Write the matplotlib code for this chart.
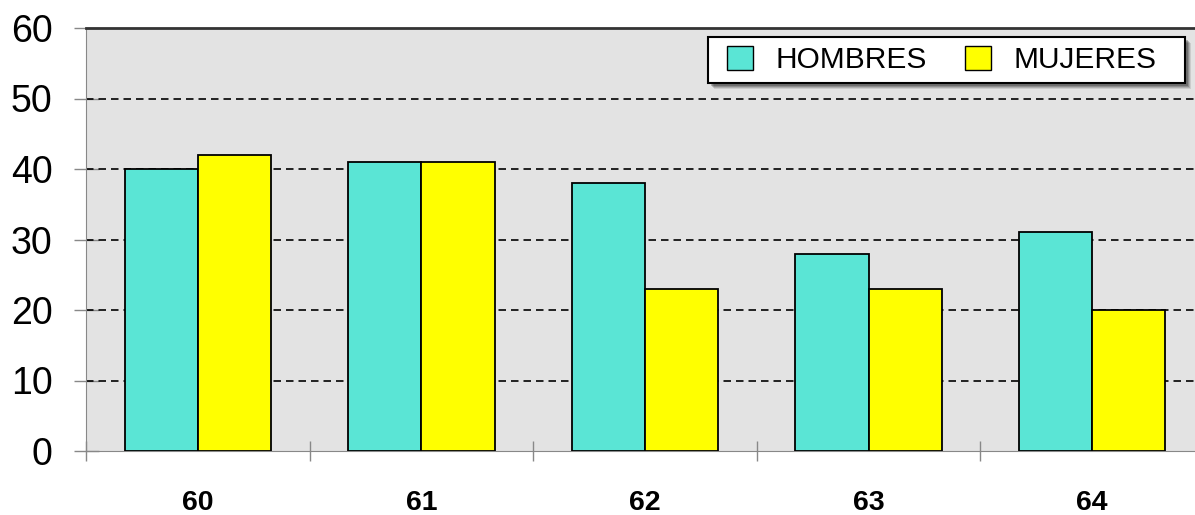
import numpy as np
import matplotlib.pyplot as plt
from matplotlib.patches import Patch, Rectangle

ages = ['60', '61', '62', '63', '64']
hombres = [40, 41, 38, 28, 31]
mujeres = [42, 41, 23, 23, 20]
y_ticks = [0, 10, 20, 30, 40, 50, 60]

CYAN = '#5ae5d5'
YELLOW = '#ffff00'
BG = '#e3e3e3'

plt.rcParams['font.family'] = ['Liberation Sans', 'DejaVu Sans']

fig = plt.figure(figsize=(11.95, 5.15), dpi=100)
# plot area runs a little past the right edge of the image, like the original
ax = fig.add_axes([86 / 1195, 1 - 451 / 515, 1118 / 1195, 423 / 515])
ax.set_facecolor(BG)

x = np.arange(len(ages))
w = 0.327
ax.bar(x - w / 2, hombres, w, color=CYAN, edgecolor='black', linewidth=1.3, zorder=3)
ax.bar(x + w / 2, mujeres, w, color=YELLOW, edgecolor='black', linewidth=1.3, zorder=3)

ax.set_xlim(-0.5, len(ages) - 0.5)
ax.set_ylim(0, 60)

for v in y_ticks[1:-1]:
    ax.axhline(v, color='black', linestyle=(0, (4.5, 3)), linewidth=1.2, zorder=2)

ax.set_yticks(y_ticks)
ax.tick_params(axis='y', direction='inout', length=18, width=1, color='#888888',
               labelsize=27, pad=15)

ax.set_xticks(x)
ax.set_xticklabels(ages, fontsize=20.5, fontweight='bold')
ax.set_xticks(np.arange(-0.5, len(ages), 1), minor=True)
ax.tick_params(axis='x', which='major', length=0, pad=28)
ax.tick_params(axis='x', which='minor', direction='inout', length=15, width=1, color='#888888')

ax.spines['top'].set_color('#333333')
ax.spines['top'].set_linewidth(2)
ax.spines['left'].set_color('#888888')
ax.spines['bottom'].set_color('#888888')
ax.spines['right'].set_visible(False)

# legend box drawn by hand to get the same padding and soft shadow
bx0, bx1 = (708 - 86) / 1118, (1185 - 86) / 1118
by0, by1 = 1 - (83 - 28) / 423, 1 - (37 - 28) / 423
for i, a in enumerate([0.10, 0.14, 0.18, 0.22]):
    off = (6 - i) / 1118
    offy = (6 - i) / 423
    ax.add_patch(Rectangle((bx0 + off, by0 - offy), bx1 - bx0, by1 - by0,
                           transform=ax.transAxes, facecolor='black', alpha=a,
                           edgecolor='none', zorder=4, clip_on=False))
ax.add_patch(Rectangle((bx0, by0), bx1 - bx0, by1 - by0, transform=ax.transAxes,
                       facecolor='white', edgecolor='black', linewidth=1.5,
                       zorder=5, clip_on=False))

handles = [Patch(facecolor=CYAN, edgecolor='black', label='HOMBRES'),
           Patch(facecolor=YELLOW, edgecolor='black', label='MUJERES')]
leg = ax.legend(handles=handles, loc='center left',
                bbox_to_anchor=((727 - 86) / 1118, (by0 + by1) / 2),
                ncol=2, fontsize=21.5, frameon=False, handlelength=0.87, handleheight=0.87,
                handletextpad=0.74, columnspacing=1.3, borderpad=0, borderaxespad=0)
leg.set_zorder(6)

plt.savefig('out.png', dpi=100)
